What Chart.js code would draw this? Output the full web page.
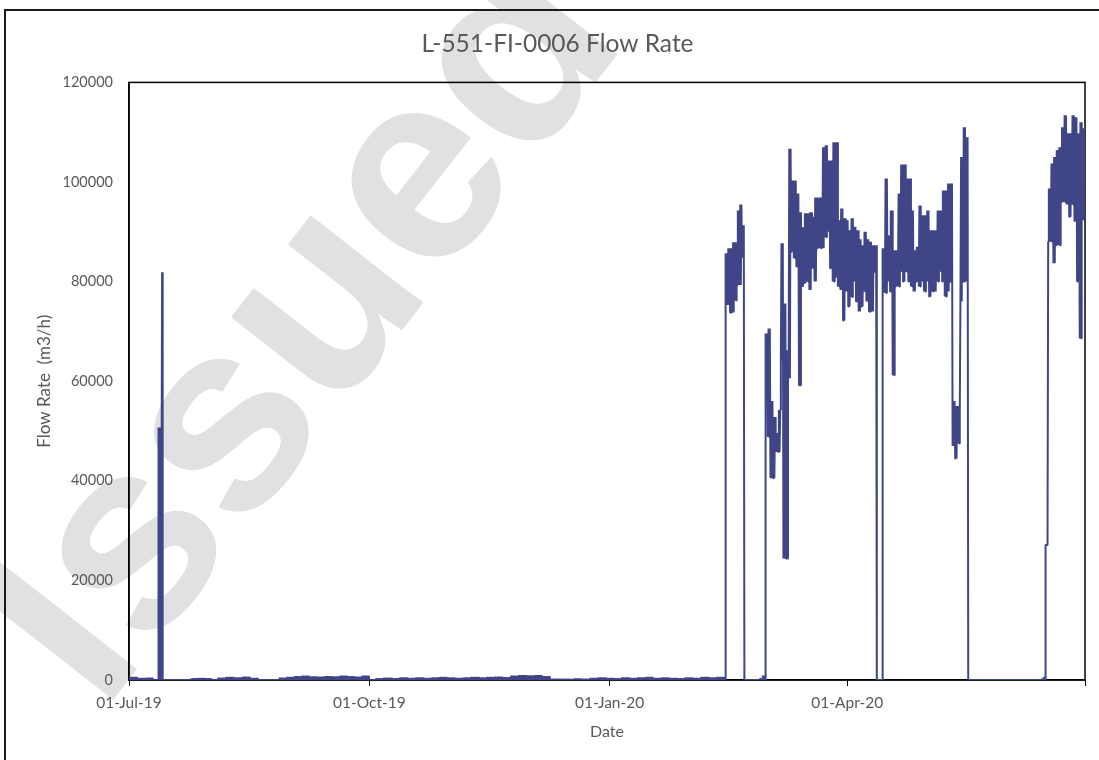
<!DOCTYPE html>
<html>
<head>
<meta charset="utf-8">
<script src="https://cdn.jsdelivr.net/npm/chart.js@4.4.0/dist/chart.umd.min.js"></script>
<style>
  html, body { margin: 0; padding: 0; background: #fff; }
</style>
</head>
<body>
<canvas id="myChart" width="1099" height="760"></canvas>
<script>
// x axis is days since 01-Jul-19
const tickDays = [0, 92, 184, 275, 366];
const tickLabels = ["01-Jul-19", "01-Oct-19", "01-Jan-20", "01-Apr-20", ""];

// low flow noise while the line is mostly idle (lows are 0)
const jul19Noise = [600, 400, 450];
const jul19Spike = [50700, 50700, 81900];
const aug19Noise = [300, 400, 300];
const aug19Noise2 = [450, 600, 500, 650, 400];
const sep19Noise = [450, 600, 750, 850, 700, 650, 750, 700, 850, 750, 650, 900];
const winterNoise = [
  350, 450, 350, 500, 400, 500, 400, 500, 600, 500, 400, 500, 600, 500, 600, 650, 550,
  850, 1000, 900, 1000, 750,
  200, 150, 150, 250, 150,
  400, 500, 400, 350, 500, 400, 500, 600, 400, 500, 400, 350, 500, 400, 600, 500, 600
];
const marBump = [300, 900];
const junBump = [250, 600];

// running periods, daily high / low of the flow band
const feb20Hi = [85700, 86700, 86700, 87900, 87900, 94300, 95500, 91300];
const feb20Lo = [75300, 75300, 73800, 73800, 76200, 79300, 79300, 85000];

const mar20Hi = [
  69600, 70600, 56000, 52800, 49600, 54200, 87700, 75600, 66200, 106700,
  100300, 100300, 97700, 93900, 90900, 93700, 93700, 93900, 93000, 96900,
  96900, 96900, 107000, 107400, 104300, 104300, 108000, 108000, 92300, 94700,
  92700, 92300, 90300, 92700, 91000, 90300, 88500, 87300, 90000, 88500,
  88000, 87300, 87300
];
const mar20Lo = [
  61600, 48800, 40500, 40500, 45800, 45800, 64200, 24400, 24400, 60600,
  86000, 84700, 82900, 59200, 78900, 79700, 80000, 78300, 82700, 80000,
  86700, 86700, 86700, 88900, 90000, 82700, 80000, 80900, 79000, 78300,
  72200, 78000, 75000, 76900, 80000, 76000, 74000, 75000, 78000, 76000,
  74000, 74000, 82000
];

const may20Hi = [
  86700, 100700, 89300, 94300, 86300, 86300, 97700, 103500, 103500, 100700,
  100700, 94300, 86300, 87000, 95300, 93300, 93300, 94300, 90300, 90300,
  90300, 94300, 94300, 98300, 98300, 99700, 99700, 56000, 55000, 54000,
  105000, 111000, 109000
];
const may20Lo = [
  78000, 77700, 80000, 78000, 61200, 79000, 79000, 82000, 80000, 82000,
  80000, 79000, 78000, 80000, 79000, 80000, 78000, 80000, 77000, 78000,
  78000, 80000, 82000, 80000, 77000, 78000, 80000, 47000, 44500, 47500,
  76000, 80000, 80000
];

const jun20Hi = [27100, 98700, 103700, 105000, 106400, 107000, 111000, 113400, 109800, 109800, 113400, 113000, 109800, 112000, 110800];
const jun20Lo = [27100, 88000, 88000, 83700, 87300, 87300, 96000, 96000, 95500, 93000, 95500, 92000, 80000, 68600, 92300];

// [start day, end day, highs, lows]
const pieces = [
  [0.2, 9.2, jul19Noise, null],
  [11.2, 13.1, jul19Spike, null],
  [23.8, 31.6, aug19Noise, null],
  [34, 49.5, aug19Noise2, null],
  [57.5, 92, sep19Noise, null],
  [94.5, 228, winterNoise, null],
  [228.3, 235.6, feb20Hi, feb20Lo],
  [241.5, 243.4, marBump, null],
  [243.6, 286.3, mar20Hi, mar20Lo],
  [288.4, 321.3, may20Hi, may20Lo],
  [349.5, 350.9, junBump, null],
  [350.9, 366, jun20Hi, jun20Lo]
];

var points = [];
pieces.forEach(function (p, idx) {
  var start = p[0], end = p[1], hi = p[2], lo = p[3];
  var step = (end - start) / hi.length;
  points.push({ x: start, y: 0 });
  for (var i = 0; i < hi.length; i++) {
    var n = Math.max(2, Math.round(step * 4));
    for (var k = 0; k < n; k++) {
      points.push({ x: start + i * step + (k / n) * step, y: k % 2 ? hi[i] : (lo ? lo[i] : 0) });
    }
  }
  if (idx < pieces.length - 1) points.push({ x: end, y: 0 });
});

Chart.defaults.font.family = "Lato, 'Open Sans', sans-serif";
Chart.defaults.color = "#595959";

const frame = {
  id: "frame",
  beforeDraw(chart) {
    const ctx = chart.ctx;
    ctx.save();
    ctx.fillStyle = "#fff";
    ctx.fillRect(0, 0, chart.width, chart.height);
    // watermark
    ctx.translate(102, 714);
    ctx.rotate(-52 * Math.PI / 180);
    ctx.font = "bold 270px 'Liberation Sans'";
    ctx.fillStyle = "#e1e1e1";
    ctx.fillText("Issued", 0, 0);
    ctx.restore();
    // outer chart border
    ctx.save();
    ctx.strokeStyle = "#1a1a1a";
    ctx.lineWidth = 2;
    ctx.beginPath();
    ctx.moveTo(5, 760);
    ctx.lineTo(5, 10);
    ctx.lineTo(1099, 10);
    ctx.stroke();
    ctx.restore();
  },
  beforeDatasetsDraw(chart) {
    const a = chart.chartArea;
    const ctx = chart.ctx;
    ctx.save();
    ctx.strokeStyle = "#000";
    ctx.lineWidth = 1.5;
    ctx.strokeRect(a.left, a.top, a.right - a.left, a.bottom - a.top);
    ctx.restore();
  }
};

var ctx = document.getElementById("myChart").getContext("2d");
var myChart = new Chart(ctx, {
  type: "line",
  data: {
    datasets: [{
      label: "L-551-FI-0006",
      data: points,
      borderColor: "#404588",
      borderWidth: 2,
      borderJoinStyle: "bevel",
      pointRadius: 0,
      tension: 0,
      fill: false
    }]
  },
  options: {
    responsive: false,
    animation: false,
    layout: { padding: { left: 30, right: 14, top: 0, bottom: 0 } },
    scales: {
      x: {
        type: "linear",
        min: 0,
        max: 366,
        afterBuildTicks: function (scale) {
          scale.ticks = tickDays.map(function (d) { return { value: d }; });
        },
        afterFit: function (scale) { scale.height = 80; },
        ticks: {
          autoSkip: false,
          maxRotation: 0,
          padding: 8,
          font: { size: 15.5 },
          callback: function (v, i) { return tickLabels[i]; }
        },
        grid: { drawOnChartArea: false, tickLength: 6, tickColor: "#000", color: "#000" },
        border: { color: "#000", width: 1.5 },
        title: { display: true, text: "Date", font: { size: 16 }, padding: { top: 4, bottom: 19 } }
      },
      y: {
        min: 0,
        max: 120000,
        afterFit: function (scale) { scale.width = 99; },
        ticks: {
          stepSize: 20000,
          padding: 8,
          font: { size: 14.5 },
          callback: function (v) { return String(v); }
        },
        grid: { display: false },
        border: { color: "#000", width: 1.5 },
        title: { display: true, text: "Flow Rate  (m3/h)", font: { size: 17 } }
      }
    },
    plugins: {
      legend: { display: false },
      tooltip: { enabled: false },
      title: {
        display: true,
        text: "L-551-FI-0006 Flow Rate",
        font: { size: 24.5, weight: "normal" },
        color: "#595959",
        padding: { top: 29, bottom: 24 }
      }
    }
  },
  plugins: [frame]
});
</script>
</body>
</html>
